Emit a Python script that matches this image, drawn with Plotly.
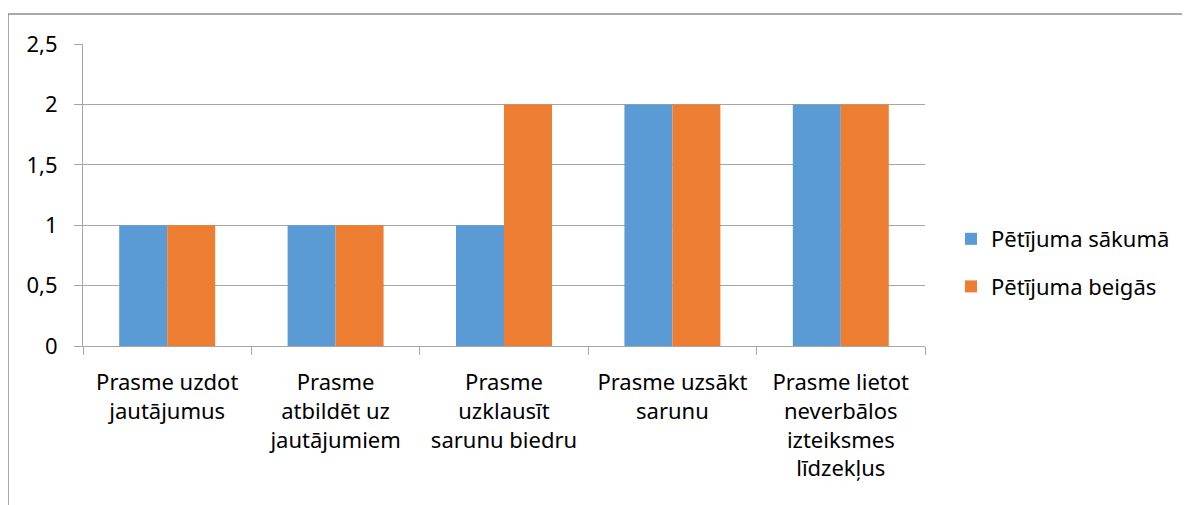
import plotly.graph_objects as go

categories = [
    "Prasme uzdot<br>jautājumus",
    "Prasme<br>atbildēt uz<br>jautājumiem",
    "Prasme<br>uzklausīt<br>sarunu biedru",
    "Prasme uzsākt<br>sarunu",
    "Prasme lietot<br>neverbālos<br>izteiksmes<br>līdzekļus",
]
sakuma = [1, 1, 1, 2, 2]
beigas = [1, 1, 2, 2, 2]
y_ticks = [0, 0.5, 1, 1.5, 2, 2.5]
y_labels = ["0", "0,5", "1", "1,5", "2", "2,5"]

FONT = "Noto Sans"
OFF = 8  # page body margin
W, H = 1190, 505
L, R, T, B = 83 - OFF, 1190 - 925 + OFF, 44 - OFF, 505 - 346 + OFF
pw, ph = W - L - R, H - T - B

fig = go.Figure()
fig.add_trace(go.Bar(x=categories, y=sakuma, name="Pētījuma sākumā",
                     marker=dict(color="#5B9BD5", line_width=0), legendgroup="a"))
fig.add_trace(go.Bar(x=categories, y=beigas, name="Pētījuma beigās",
                     marker=dict(color="#ED7D31", line_width=0), legendgroup="b"))

# outer chart border (only top and left visible in the crop)
bx = (8 - OFF - L) / pw
by = (H - B - (14 - OFF)) / ph
fig.add_shape(type="line", xref="paper", yref="paper", x0=bx, x1=2, y0=by, y1=by,
              line=dict(color="#8c8c8c", width=1.5))
fig.add_shape(type="line", xref="paper", yref="paper", x0=bx, x1=bx, y0=by, y1=-2,
              line=dict(color="#8c8c8c", width=1.5))

fig.update_layout(
    width=W, height=H,
    margin=dict(l=L, r=R, t=T, b=B),
    paper_bgcolor="white", plot_bgcolor="white",
    barmode="group", bargap=0.43, bargroupgap=0,
    font=dict(family=FONT, size=22, color="#000000"),
    showlegend=True,
    legend=dict(x=(943 - L) / pw, y=(H - B - 255) / ph, xanchor="left", yanchor="middle",
                tracegroupgap=16, font=dict(size=22), itemwidth=30),
)
fig.update_xaxes(
    showline=True, linecolor="#a6a6a6", linewidth=1,
    ticks="outside", tickson="boundaries", ticklen=8, tickcolor="#a6a6a6",
    showgrid=False, tickangle=0, ticklabelstandoff=17,
)
fig.update_yaxes(
    range=[0, 2.5], tickvals=y_ticks, ticktext=y_labels,
    showline=True, linecolor="#a6a6a6", linewidth=1,
    ticks="outside", ticklen=8, tickcolor="#a6a6a6",
    showgrid=True, gridcolor="#a6a6a6", gridwidth=1, zeroline=False,
    ticklabelstandoff=12,
)

fig.write_html("out.html")
